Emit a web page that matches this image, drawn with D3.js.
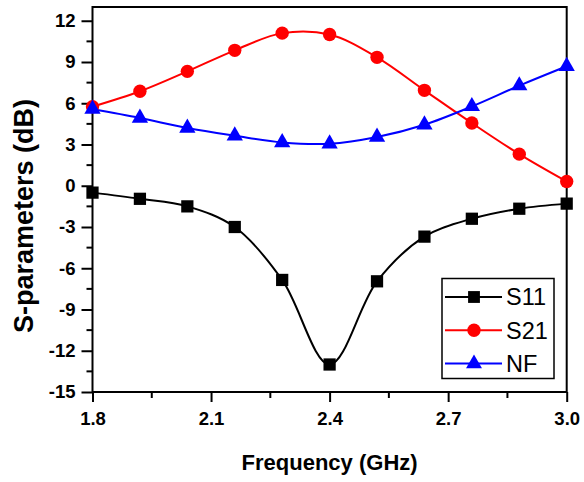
<!DOCTYPE html>
<html>
<head>
<meta charset="utf-8">
<script src="https://cdn.jsdelivr.net/npm/d3@7"></script>
<style>
  body { margin: 0; background: #fff; }
  svg { display: block; font-family: "Liberation Sans", Arial, sans-serif; }
  .tick text { font-size: 18.5px; font-weight: bold; font-family: "Liberation Sans", Arial, sans-serif; }
</style>
</head>
<body>
<div id="chart"></div>
<script>
const FREQ = [1.8, 1.92, 2.04, 2.16, 2.28, 2.4, 2.52, 2.64, 2.76, 2.88, 3.0];
const S11 = [-0.5, -0.95, -1.5, -3.0, -6.85, -13.0, -6.95, -3.7, -2.4, -1.67, -1.3];
const S21 = [5.75, 6.87, 8.32, 9.85, 11.1, 11.0, 9.34, 6.94, 4.56, 2.3, 0.31];
const NF = [5.58, 4.93, 4.2, 3.64, 3.15, 3.06, 3.55, 4.44, 5.77, 7.28, 8.69];
const X_TICKS = [1.8, 2.1, 2.4, 2.7, 3.0];
const Y_TICKS = [-15, -12, -9, -6, -3, 0, 3, 6, 9, 12];

const SERIES = [
  { name: "S11", values: S11, color: "#000000", symbol: d3.symbolSquare },
  { name: "S21", values: S21, color: "#ff0000", symbol: d3.symbolCircle },
  { name: "NF", values: NF, color: "#0000ff", symbol: d3.symbolTriangle }
];

const W = 584, H = 482;
const LEFT = 92.5, RIGHT = 566.7, TOP = 7, BOTTOM = 392;

const svg = d3.select("#chart").append("svg")
  .attr("width", W)
  .attr("height", H);

const x = d3.scaleLinear().domain([1.8, 3.0]).range([LEFT, RIGHT]);
const y = d3.scaleLinear().domain([-15, 13]).range([BOTTOM, TOP]);

// minor ticks
const xMinor = d3.range(1.95, 3.0, 0.3);
const yMinor = d3.range(-13.5, 13, 3);

svg.append("g")
   .selectAll("line")
   .data(xMinor)
   .join("line")
   .attr("x1", d => x(d)).attr("x2", d => x(d))
   .attr("y1", BOTTOM).attr("y2", BOTTOM + 6)
   .attr("stroke", "#000").attr("stroke-width", 2);

svg.append("g")
   .selectAll("line")
   .data(yMinor)
   .join("line")
   .attr("x1", LEFT - 6).attr("x2", LEFT)
   .attr("y1", d => y(d)).attr("y2", d => y(d))
   .attr("stroke", "#000").attr("stroke-width", 2);

// axes
const xAxis = svg.append("g")
  .attr("transform", `translate(0,${BOTTOM})`)
  .call(d3.axisBottom(x).tickValues(X_TICKS).tickFormat(d => d.toFixed(1)).tickSizeInner(10).tickSizeOuter(0).tickPadding(10));

const yAxis = svg.append("g")
  .attr("transform", `translate(${LEFT},0)`)
  .call(d3.axisLeft(y).tickValues(Y_TICKS).tickFormat(d => String(d)).tickSizeInner(11).tickSizeOuter(0).tickPadding(6));

[xAxis, yAxis].forEach(g => {
  g.attr("font-size", null).attr("font-family", null);
  g.select(".domain").remove();
  g.selectAll(".tick line").attr("stroke", "#000").attr("stroke-width", 2);
  g.selectAll(".tick text").attr("fill", "#000");
});

// frame
svg.append("rect")
   .attr("x", LEFT).attr("y", TOP)
   .attr("width", RIGHT - LEFT).attr("height", BOTTOM - TOP)
   .attr("fill", "none").attr("stroke", "#000").attr("stroke-width", 2);

// series lines
const line = d3.line()
  .x((d, i) => x(FREQ[i]))
  .y(d => y(d))
  .curve(d3.curveCatmullRom.alpha(0.5));

const plot = svg.append("g");

SERIES.forEach(s => {
  plot.append("path")
      .datum(s.values)
      .attr("d", line)
      .attr("fill", "none")
      .attr("stroke", s.color)
      .attr("stroke-width", 2);
});

SERIES.forEach(s => {
  const size = s.symbol === d3.symbolTriangle ? 115 : (s.symbol === d3.symbolSquare ? 150 : 140);
  plot.selectAll(null)
      .data(s.values)
      .join("path")
      .attr("transform", (d, i) => `translate(${x(FREQ[i])},${y(d)})`)
      .attr("d", d3.symbol().type(s.symbol).size(size))
      .attr("fill", s.color);
});

// axis titles
svg.append("text")
   .attr("x", (LEFT + RIGHT) / 2)
   .attr("y", 470)
   .attr("text-anchor", "middle")
   .style("font-size", "22px")
   .style("font-weight", "bold")
   .text("Frequency (GHz)");

svg.append("text")
   .attr("transform", "translate(33,216) rotate(-90)")
   .attr("text-anchor", "middle")
   .style("font-size", "27px")
   .style("font-weight", "bold")
   .text("S-parameters (dB)");

// legend
const legend = svg.append("g");
legend.append("rect")
      .attr("x", 442).attr("y", 278.5)
      .attr("width", 112).attr("height", 100)
      .attr("fill", "#fff").attr("stroke", "#000").attr("stroke-width", 1.5);

const items = legend.selectAll("g.item")
  .data(SERIES)
  .join("g")
  .attr("class", "item")
  .attr("transform", (d, i) => `translate(0,${297 + i * 33.3})`);

items.append("line")
     .attr("x1", 445).attr("x2", 502)
     .attr("stroke", d => d.color).attr("stroke-width", 2);

items.append("path")
     .attr("transform", "translate(474,0)")
     .attr("d", d => d3.symbol().type(d.symbol).size(d.symbol === d3.symbolTriangle ? 110 : 140)())
     .attr("fill", d => d.color);

items.append("text")
     .attr("x", 506)
     .attr("dy", "0.36em")
     .style("font-size", "23.5px")
     .text(d => d.name);
</script>
</body>
</html>
